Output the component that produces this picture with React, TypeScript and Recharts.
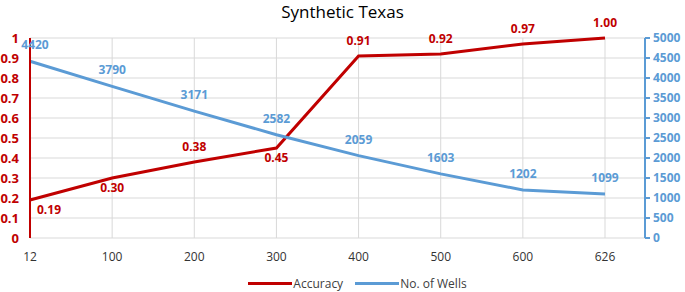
import { LineChart, Line, XAxis, YAxis, CartesianGrid, Legend, LabelList } from 'recharts';

document.body.style.margin = '0';

const categories = ['12', '100', '200', '300', '400', '500', '600', '626'];
const accuracy = [0.19, 0.3, 0.38, 0.45, 0.91, 0.92, 0.97, 1.0];
const wells = [4420, 3790, 3171, 2582, 2059, 1603, 1202, 1099];
const accuracyTicks = [0, 0.1, 0.2, 0.3, 0.4, 0.5, 0.6, 0.7, 0.8, 0.9, 1];
const wellsTicks = [0, 500, 1000, 1500, 2000, 2500, 3000, 3500, 4000, 4500, 5000];
// which accuracy labels sit under the line
const accuracyBelow = [true, true, false, true, false, false, false, false];

const RED = '#C00000';
const BLUE = '#5B9BD5';
const FONT = '"Open Sans", sans-serif';

const data = categories.map((c, i) => ({ name: c, accuracy: accuracy[i], wells: wells[i] }));

const AccLabel = (props: any) => {
    const { x, y, value, index } = props;
    const below = accuracyBelow[index];
    return (
        <text
            x={x + (index === 0 ? 19 : 0)}
            y={below ? y + 14 : y - 11}
            textAnchor="middle"
            fill={RED}
            fontSize={12}
            fontWeight="bold"
            fontFamily={FONT}
        >
            {value.toFixed(2)}
        </text>
    );
};

const WellsLabel = (props: any) => {
    const { x, y, value, index } = props;
    // first label nudged a bit so it clears the "1" tick
    return (
        <text
            x={x + (index === 0 ? 5 : 0)}
            y={y - 12}
            textAnchor="middle"
            fill={BLUE}
            fontSize={12}
            fontWeight="bold"
            fontFamily={FONT}
        >
            {value}
        </text>
    );
};

const LegendContent = () => (
    <div
        style={{
            display: 'flex',
            justifyContent: 'center',
            gap: 12,
            fontFamily: FONT,
            fontSize: 12,
            color: '#404040',
            paddingLeft: 30,
            paddingTop: 7,
        }}
    >
        <span style={{ display: 'flex', alignItems: 'center' }}>
            <span style={{ display: 'inline-block', width: 44, height: 3, background: RED, marginRight: 1 }} />
            Accuracy
        </span>
        <span style={{ display: 'flex', alignItems: 'center' }}>
            <span style={{ display: 'inline-block', width: 44, height: 3, background: BLUE, marginRight: 1 }} />
            No. of Wells
        </span>
    </div>
);

export default function App() {
    return (
        <div style={{ position: 'relative', width: 685, height: 292, background: '#fff' }}>
            <div
                style={{
                    position: 'absolute',
                    top: 0,
                    left: 0,
                    width: 685,
                    textAlign: 'center',
                    fontFamily: FONT,
                    fontSize: 17,
                    color: '#000',
                    lineHeight: '24px',
                }}
            >
                Synthetic Texas
            </div>
            <LineChart width={685} height={292} data={data} margin={{ top: 38, right: 0, left: 0, bottom: 0 }}>
                <CartesianGrid yAxisId="left" stroke="#D9D9D9" strokeWidth={1} />
                <XAxis
                    dataKey="name"
                    padding={{ left: 0, right: 40 }}
                    axisLine={false}
                    tickLine={false}
                    height={30}
                    tickMargin={8}
                    tick={{ fill: '#333', fontSize: 12, fontFamily: FONT }}
                />
                <YAxis
                    yAxisId="left"
                    domain={[0, 1]}
                    ticks={accuracyTicks}
                    width={30}
                    axisLine={{ stroke: RED, strokeWidth: 2 }}
                    tickLine={false}
                    tickMargin={5}
                    interval={0}
                    tick={{ fill: RED, fontSize: 13, fontWeight: 'bold', fontFamily: FONT }}
                />
                <YAxis
                    yAxisId="right"
                    orientation="right"
                    domain={[0, 5000]}
                    ticks={wellsTicks}
                    width={40}
                    axisLine={{ stroke: BLUE, strokeWidth: 2 }}
                    tickLine={{ stroke: BLUE, strokeWidth: 2 }}
                    tickSize={5}
                    tickMargin={3}
                    interval={0}
                    tick={{ fill: BLUE, fontSize: 12, fontWeight: 'bold', fontFamily: FONT, textAnchor: 'start' }}
                />
                <Legend height={24} verticalAlign="bottom" content={<LegendContent />} />
                <Line
                    yAxisId="left"
                    type="linear"
                    dataKey="accuracy"
                    name="Accuracy"
                    stroke={RED}
                    strokeWidth={3}
                    dot={false}
                    isAnimationActive={false}
                >
                    <LabelList dataKey="accuracy" content={<AccLabel />} />
                </Line>
                <Line
                    yAxisId="right"
                    type="linear"
                    dataKey="wells"
                    name="No. of Wells"
                    stroke={BLUE}
                    strokeWidth={3}
                    dot={false}
                    isAnimationActive={false}
                >
                    <LabelList dataKey="wells" content={<WellsLabel />} />
                </Line>
            </LineChart>
        </div>
    );
}
